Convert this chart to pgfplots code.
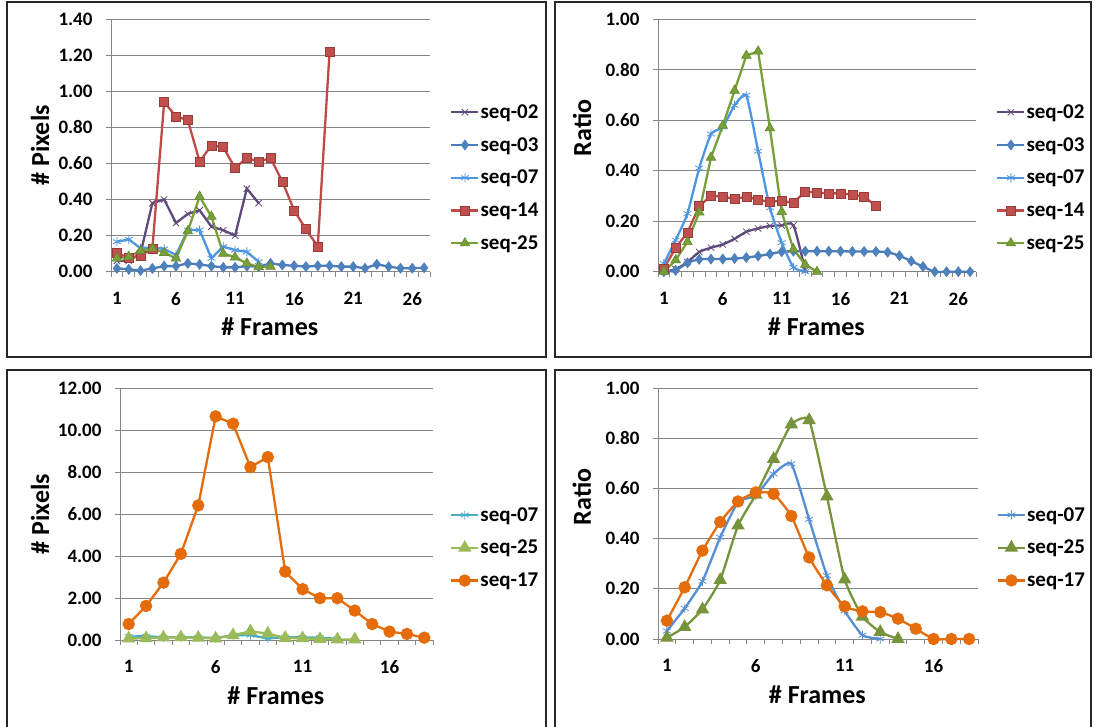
\documentclass[border=0pt]{standalone}
\usepackage{fontspec}
\setmainfont{Carlito}
\usepackage{pgfplots}
\pgfplotsset{compat=1.18}
\definecolor{gridgray}{RGB}{134,134,134}
\definecolor{framec}{RGB}{40,40,40}
\definecolor{cA}{RGB}{96,74,123}
\definecolor{cB}{RGB}{74,126,187}
\definecolor{cBf}{RGB}{79,129,189}
\definecolor{cC}{RGB}{77,150,225}
\definecolor{cD}{RGB}{190,75,72}
\definecolor{cDf}{RGB}{192,80,77}
\definecolor{cE}{RGB}{120,160,56}
\definecolor{cF}{RGB}{75,172,198}
\definecolor{cG}{RGB}{155,187,89}
\definecolor{cH}{RGB}{228,108,10}
\definecolor{cI}{RGB}{85,142,213}
\definecolor{cJ}{RGB}{119,147,60}
\pgfplotsset{
  panel/.style={
    scale only axis, anchor=south west, clip=false,
    xmin=0.5, ymin=0,
    axis lines*=left,
    axis line style={draw=gridgray, line width=0.8pt},
    ymajorgrids, grid style={gridgray, line width=0.8pt},
    tick align=outside, major tick length=5pt, minor tick length=5pt,
    tick style={gridgray, line width=0.8pt},
    major x tick style={draw=none},
    /pgf/number format/assume math mode=true,
    tick label style={font=\fontsize{19}{19}\selectfont\bfseries},
    yticklabel style={/pgf/number format/fixed, /pgf/number format/fixed zerofill, /pgf/number format/precision=2, xshift=-10pt},
    xticklabel style={yshift=-12pt},
    label style={font=\fontsize{26}{26}\selectfont\bfseries},
    every axis y label/.append style={anchor=center},
    every axis x label/.append style={anchor=center},
    xlabel={\# Frames},
    legend cell align=left,
    legend image code/.code={\draw[mark repeat=2,mark phase=2,##1] plot coordinates {(0pt,0pt) (13.5pt,0pt) (27pt,0pt)};},
    legend style={anchor=west, draw=none, fill=none, inner sep=0pt,
      font=\fontsize{21}{21}\selectfont\bfseries, row sep=17.5pt,
      nodes={inner xsep=1pt, inner ysep=0pt}},
  },
  sA/.style={color=cA, line width=2.3pt, mark=x, mark size=4.5pt, mark options={line width=0.8pt, solid}},
  sB/.style={color=cB, line width=2.3pt, mark=diamond*, mark size=5pt, mark options={fill=cBf, draw=cB, line width=0.6pt}},
  sC/.style={color=cC, line width=2.3pt, mark=asterisk, mark size=4.5pt, mark options={line width=0.8pt}},
  sD/.style={color=cD, line width=2.3pt, mark=square*, mark size=4.5pt, mark options={fill=cDf, draw=cD!80!black, line width=0.6pt}},
  sE/.style={color=cE, line width=2.3pt, mark=triangle*, mark size=5.5pt, mark options={fill=cE, draw=cE!85!black, line width=0.6pt}},
}
\begin{document}
\begin{tikzpicture}
\clip (0pt,0pt) rectangle (1095pt,726pt);
\fill[white] (0pt,0pt) rectangle (1095pt,726pt);
\draw[framec, line width=1.4pt] (7pt,724pt) rectangle (546pt,369pt);
\draw[framec, line width=1.4pt] (555pt,724pt) rectangle (1091pt,369pt);
\draw[framec, line width=1.4pt] (7pt,356pt) rectangle (546pt,-14pt);
\draw[framec, line width=1.4pt] (555pt,356pt) rectangle (1091pt,-14pt);

% ---------- Panel 1 ----------
\begin{axis}[panel, at={(111pt,454.3pt)}, width=319pt, height=252.7pt,
  xmax=27.5, ymax=1.4, ytick={0,0.2,0.4,0.6,0.8,1.0,1.2,1.4},
  xtick={1,6,11,16,21,26}, minor xtick={0.5,1.5,...,27.5},
  ylabel={\# Pixels}, ylabel style={at={(axis description cs:-0.2226,0.5)}},
  xlabel style={at={(axis description cs:0.498,-0.219)}},
  legend style={at={(axis description cs:1.063,0.372)}}]
\addplot[sA] coordinates {(1,0.06)(2,0.06)(3,0.10)(4,0.38)(5,0.40)(6,0.27)(7,0.32)(8,0.34)(9,0.25)(10,0.23)(11,0.20)(12,0.46)(13,0.38)};
\addlegendentry{seq-02}
\addplot[sB] coordinates {(1,0.018)(2,0.013)(3,0.006)(4,0.018)(5,0.031)(6,0.031)(7,0.046)(8,0.040)(9,0.031)(10,0.024)(11,0.024)(12,0.031)(13,0.028)(14,0.046)(15,0.037)(16,0.033)(17,0.028)(18,0.033)(19,0.033)(20,0.028)(21,0.028)(22,0.019)(23,0.041)(24,0.028)(25,0.019)(26,0.019)(27,0.022)};
\addlegendentry{seq-03}
\addplot[sC] coordinates {(1,0.166)(2,0.179)(3,0.13)(4,0.135)(5,0.126)(6,0.092)(7,0.231)(8,0.231)(9,0.074)(10,0.139)(11,0.12)(12,0.11)(13,0.055)};
\addlegendentry{seq-07}
\addplot[sD] coordinates {(1,0.105)(2,0.075)(3,0.09)(4,0.125)(5,0.94)(6,0.86)(7,0.84)(8,0.61)(9,0.70)(10,0.69)(11,0.575)(12,0.63)(13,0.61)(14,0.63)(15,0.50)(16,0.34)(17,0.235)(18,0.14)(19,1.22)};
\addlegendentry{seq-14}
\addplot[sE] coordinates {(1,0.074)(2,0.083)(3,0.116)(4,0.129)(5,0.105)(6,0.074)(7,0.225)(8,0.416)(9,0.305)(10,0.10)(11,0.08)(12,0.046)(13,0.026)(14,0.028)};
\addlegendentry{seq-25}
\end{axis}

% ---------- Panel 2 ----------
\begin{axis}[panel, at={(658pt,454.3pt)}, width=318pt, height=252.7pt,
  xmax=27.5, ymax=1.0, ytick={0,0.2,0.4,0.6,0.8,1.0},
  xtick={1,6,11,16,21,26}, minor xtick={0.5,1.5,...,27.5},
  ylabel={Ratio}, ylabel style={at={(axis description cs:-0.239,0.569)}},
  xlabel style={at={(axis description cs:0.498,-0.219)}},
  legend style={at={(axis description cs:1.063,0.372)}}]
\addplot[sA, smooth, tension=0.4] coordinates {(1,0.00)(2,0.01)(3,0.038)(4,0.078)(5,0.095)(6,0.108)(7,0.13)(8,0.158)(9,0.171)(10,0.181)(11,0.183)(12,0.183)(13,0.005)};
\addlegendentry{seq-02}
\addplot[sB, smooth, tension=0.4] coordinates {(1,0.00)(2,0.005)(3,0.035)(4,0.049)(5,0.05)(6,0.05)(7,0.052)(8,0.056)(9,0.062)(10,0.07)(11,0.079)(12,0.081)(13,0.081)(14,0.081)(15,0.081)(16,0.081)(17,0.08)(18,0.08)(19,0.08)(20,0.077)(21,0.063)(22,0.042)(23,0.02)(24,0.00)(25,0.00)(26,0.00)(27,0.00)};
\addlegendentry{seq-03}
\addplot[sC, smooth, tension=0.3] coordinates {(1,0.032)(2,0.125)(3,0.23)(4,0.41)(5,0.545)(6,0.572)(7,0.658)(8,0.698)(9,0.477)(10,0.253)(11,0.115)(12,0.017)(13,0.00)};
\addlegendentry{seq-07}
\addplot[sD] coordinates {(1,0.013)(2,0.094)(3,0.155)(4,0.26)(5,0.30)(6,0.297)(7,0.288)(8,0.297)(9,0.284)(10,0.277)(11,0.28)(12,0.273)(13,0.317)(14,0.313)(15,0.31)(16,0.31)(17,0.305)(18,0.297)(19,0.26)};
\addlegendentry{seq-14}
\addplot[sE] coordinates {(1,0.00)(2,0.046)(3,0.118)(4,0.235)(5,0.452)(6,0.578)(7,0.717)(8,0.855)(9,0.872)(10,0.568)(11,0.237)(12,0.089)(13,0.028)(14,0.00)};
\addlegendentry{seq-25}
\end{axis}

% ---------- Panel 3 ----------
\begin{axis}[panel, at={(120pt,86pt)}, width=313pt, height=252pt,
  xmax=18.5, ymax=12, ytick={0,2,4,6,8,10,12},
  xtick={1,6,11,16}, minor xtick={0.5,1.5,...,18.5},
  ylabel={\# Pixels}, ylabel style={at={(axis description cs:-0.2556,0.5)}},
  xlabel style={at={(axis description cs:0.498,-0.222)}},
  legend style={at={(axis description cs:1.054,0.366)}}]
\addplot[color=cF, line width=2.3pt, mark=asterisk, mark size=4.5pt, mark options={line width=0.8pt}] coordinates {(1,0.166)(2,0.179)(3,0.13)(4,0.135)(5,0.126)(6,0.092)(7,0.231)(8,0.231)(9,0.074)(10,0.139)(11,0.12)(12,0.11)(13,0.055)};
\addlegendentry{seq-07}
\addplot[color=cG, line width=2.3pt, mark=triangle*, mark size=5.5pt, mark options={fill=cG, draw=cG}] coordinates {(1,0.074)(2,0.083)(3,0.116)(4,0.129)(5,0.105)(6,0.074)(7,0.225)(8,0.416)(9,0.305)(10,0.10)(11,0.08)(12,0.046)(13,0.026)(14,0.028)};
\addlegendentry{seq-25}
\addplot[color=cH, line width=2.3pt, mark=*, mark size=5pt, mark options={fill=cH, draw=cH}] coordinates {(1,0.76)(2,1.62)(3,2.73)(4,4.10)(5,6.41)(6,10.65)(7,10.30)(8,8.23)(9,8.71)(10,3.26)(11,2.42)(12,1.99)(13,1.99)(14,1.40)(15,0.76)(16,0.40)(17,0.29)(18,0.11)};
\addlegendentry{seq-17}
\end{axis}

% ---------- Panel 4 ----------
\begin{axis}[panel, at={(658pt,87pt)}, width=320pt, height=251pt,
  xmax=18.5, ymax=1.0, ytick={0,0.2,0.4,0.6,0.8,1.0},
  xtick={1,6,11,16}, minor xtick={0.5,1.5,...,18.5},
  ylabel={Ratio}, ylabel style={at={(axis description cs:-0.238,0.566)}},
  xlabel style={at={(axis description cs:0.498,-0.222)}},
  legend style={at={(axis description cs:1.058,0.364)}}]
\addplot[color=cI, line width=2.3pt, smooth, tension=0.3, mark=asterisk, mark size=4.5pt, mark options={line width=0.8pt}] coordinates {(1,0.032)(2,0.122)(3,0.23)(4,0.405)(5,0.545)(6,0.572)(7,0.658)(8,0.698)(9,0.477)(10,0.253)(11,0.112)(12,0.015)(13,0.00)};
\addlegendentry{seq-07}
\addplot[color=cJ, line width=2.3pt, smooth, tension=0.3, mark=triangle*, mark size=5.5pt, mark options={fill=cJ, draw=cJ}] coordinates {(1,0.005)(2,0.048)(3,0.118)(4,0.235)(5,0.452)(6,0.575)(7,0.717)(8,0.855)(9,0.872)(10,0.568)(11,0.237)(12,0.089)(13,0.028)(14,0.00)};
\addlegendentry{seq-25}
\addplot[color=cH, line width=2.3pt, smooth, tension=0.3, mark=*, mark size=5pt, mark options={fill=cH, draw=cH}] coordinates {(1,0.073)(2,0.206)(3,0.352)(4,0.466)(5,0.548)(6,0.584)(7,0.578)(8,0.49)(9,0.325)(10,0.214)(11,0.13)(12,0.11)(13,0.107)(14,0.081)(15,0.041)(16,0.00)(17,0.00)(18,0.00)};
\addlegendentry{seq-17}
\end{axis}
\end{tikzpicture}
\end{document}
